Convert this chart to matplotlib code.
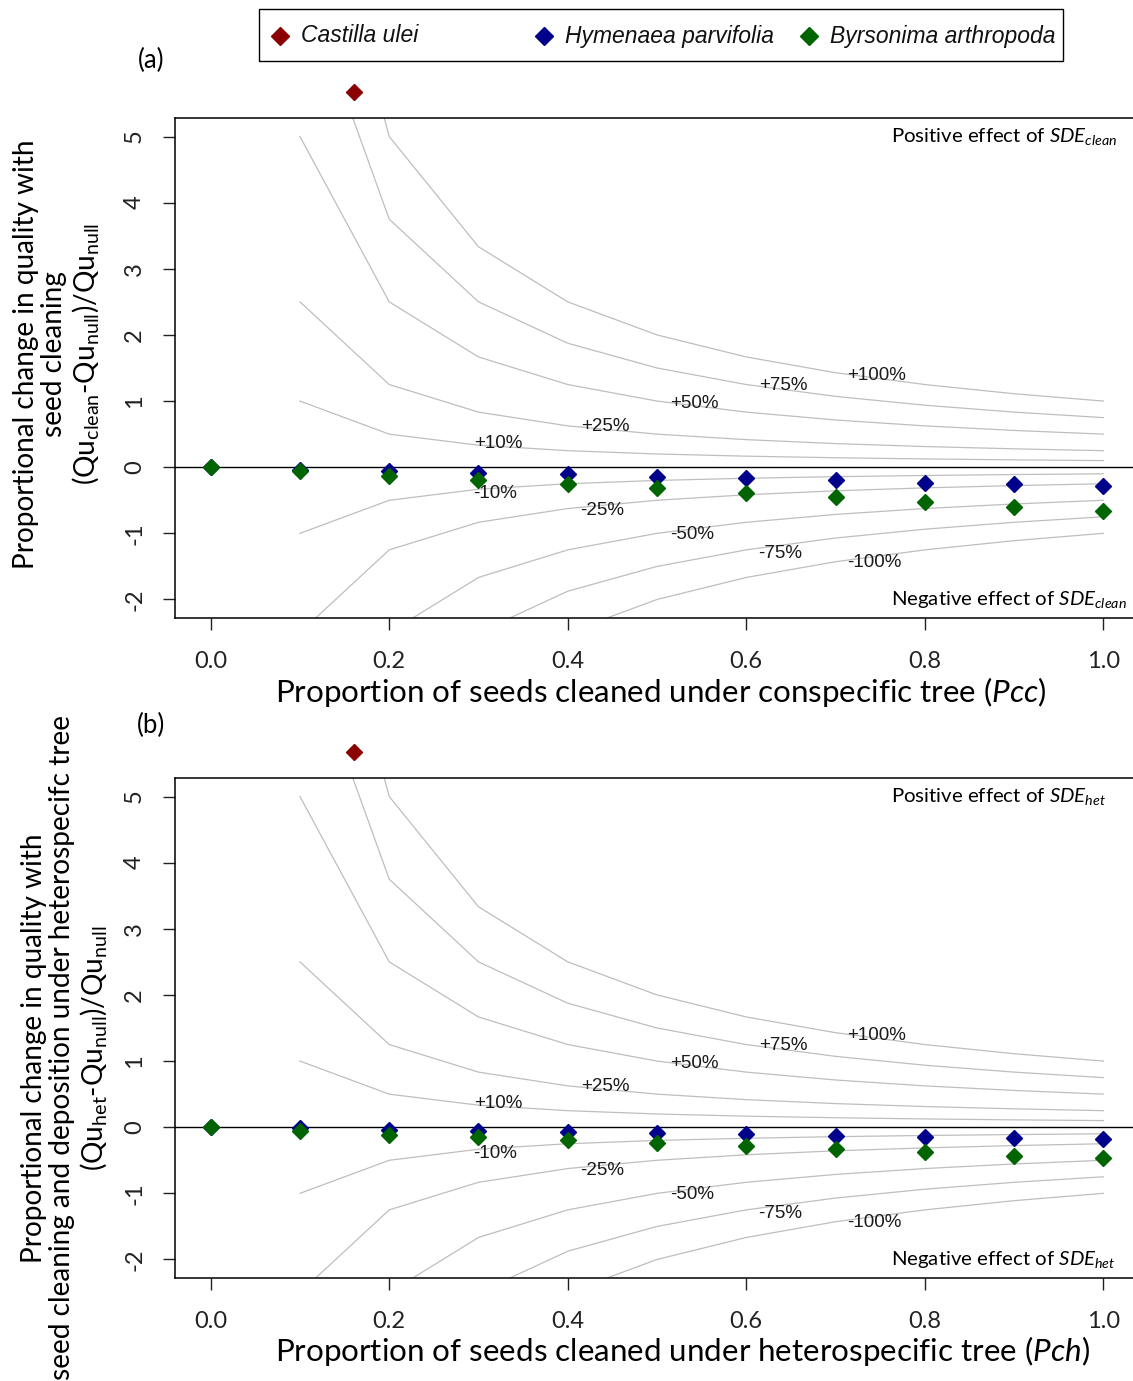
import matplotlib
matplotlib.use('Agg')
import matplotlib.pyplot as plt
from matplotlib.patches import Rectangle
from matplotlib.lines import Line2D

plt.rcParams['font.family'] = ['Lato', 'DejaVu Sans']
plt.rcParams['mathtext.fontset'] = 'custom'
plt.rcParams['mathtext.rm'] = 'Lato'
plt.rcParams['mathtext.it'] = 'Lato:italic'
plt.rcParams['mathtext.bf'] = 'Lato:bold'

# ---------------- data ----------------
prop = [0.0, 0.1, 0.2, 0.3, 0.4, 0.5, 0.6, 0.7, 0.8, 0.9, 1.0]
hym_a = [0.0, -0.035, -0.05, -0.09, -0.10, -0.15, -0.17, -0.19, -0.24, -0.26, -0.29]
byr_a = [0.0, -0.06, -0.14, -0.19, -0.26, -0.32, -0.39, -0.45, -0.53, -0.60, -0.66]
hym_b = [0.0, -0.015, -0.04, -0.06, -0.075, -0.085, -0.11, -0.135, -0.15, -0.16, -0.18]
byr_b = [0.0, -0.05, -0.12, -0.15, -0.20, -0.24, -0.29, -0.33, -0.38, -0.43, -0.46]
castilla_x = [0.16]
castilla_y = [5.68]

# reference iso-lines (proportional change), tabulated at x = 0.1 ... 1.0
iso_x = [0.1, 0.2, 0.3, 0.4, 0.5, 0.6, 0.7, 0.8, 0.9, 1.0]
iso_lines = {
    '+10%':  [1.0, 0.5, 0.333, 0.25, 0.2, 0.167, 0.143, 0.125, 0.111, 0.1],
    '+25%':  [2.5, 1.25, 0.833, 0.625, 0.5, 0.417, 0.357, 0.3125, 0.278, 0.25],
    '+50%':  [5.0, 2.5, 1.667, 1.25, 1.0, 0.833, 0.714, 0.625, 0.556, 0.5],
    '+75%':  [7.5, 3.75, 2.5, 1.875, 1.5, 1.25, 1.071, 0.9375, 0.833, 0.75],
    '+100%': [10.0, 5.0, 3.333, 2.5, 2.0, 1.667, 1.429, 1.25, 1.111, 1.0],
    '-10%':  [-1.0, -0.5, -0.333, -0.25, -0.2, -0.167, -0.143, -0.125, -0.111, -0.1],
    '-25%':  [-2.5, -1.25, -0.833, -0.625, -0.5, -0.417, -0.357, -0.3125, -0.278, -0.25],
    '-50%':  [-5.0, -2.5, -1.667, -1.25, -1.0, -0.833, -0.714, -0.625, -0.556, -0.5],
    '-75%':  [-7.5, -3.75, -2.5, -1.875, -1.5, -1.25, -1.071, -0.9375, -0.833, -0.75],
    '-100%': [-10.0, -5.0, -3.333, -2.5, -2.0, -1.667, -1.429, -1.25, -1.111, -1.0],
}
iso_label_x = {'+10%': 0.322, '+25%': 0.442, '+50%': 0.542, '+75%': 0.642, '+100%': 0.746,
               '-10%': 0.319, '-25%': 0.439, '-50%': 0.539, '-75%': 0.638, '-100%': 0.743}
iso_label_y = {'+10%': 0.36, '+25%': 0.62, '+50%': 0.97, '+75%': 1.24, '+100%': 1.38,
               '-10%': -0.39, '-25%': -0.65, '-50%': -1.02, '-75%': -1.30, '-100%': -1.44}

xticks = [0.0, 0.2, 0.4, 0.6, 0.8, 1.0]
xticklabels = ['0.0', '0.2', '0.4', '0.6', '0.8', '1.0']
yticks = [-2, -1, 0, 1, 2, 3, 4, 5]
yticklabels = ['-2', '-1', '0', '1', '2', '3', '4', '5']

species = ['Castilla ulei', 'Hymenaea parvifolia', 'Byrsonima arthropoda']
colors = ['#8B0000', '#00008B', '#006400']

# ---------------- figure ----------------
W, H = 1133, 1381
fig = plt.figure(figsize=(W / 100, H / 100), dpi=100)

def px_rect(left, top, right, bottom):
    return [left / W, 1 - bottom / H, (right - left) / W, (bottom - top) / H]

ax_a = fig.add_axes(px_rect(175, 118, 1139, 618))
ax_b = fig.add_axes(px_rect(175, 778, 1139, 1278))

panels = [
    (ax_a, hym_a, byr_a, 'clean', '(a)',
     'Proportion of seeds cleaned under conspecific tree ($\\mathit{Pcc}$)'),
    (ax_b, hym_b, byr_b, 'het', '(b)',
     'Proportion of seeds cleaned under heterospecific tree ($\\mathit{Pch}$)'),
]

for ax, hym, byr, sub, tag, xlab in panels:
    ax.set_xlim(-0.04, 1.04)
    ax.set_ylim(-2.28, 5.28)
    for name, vals in iso_lines.items():
        ax.plot(iso_x, vals, color='#BEBEBE', lw=0.9, zorder=1)
        ax.text(iso_label_x[name], iso_label_y[name], name, ha='center', va='center',
                fontsize=13.5, family=['Liberation Sans'], color='#1a1a1a', zorder=2)
    ax.axhline(0, color='black', lw=1.0, zorder=2)
    ax.plot(prop, hym, linestyle='none', marker='D', ms=8, color=colors[1], zorder=3)
    ax.plot(prop, byr, linestyle='none', marker='D', ms=8, color=colors[2], zorder=4)
    ax.plot(castilla_x, castilla_y, linestyle='none', marker='D', ms=8,
            color=colors[0], clip_on=False, zorder=5)

    ax.set_xticks(xticks)
    ax.set_xticklabels(xticklabels, fontsize=17)
    ax.set_yticks(yticks)
    ax.set_yticklabels(yticklabels, fontsize=17, rotation=90, va='center')
    ax.tick_params(axis='both', direction='out', length=8.5, width=1.0, pad=13,
                   colors='#222222')
    ax.tick_params(axis='x', pad=15)
    for sp in ax.spines.values():
        sp.set_linewidth(1.1)

    ax.text(0.7626, 5.0, 'Positive effect of $\\mathit{SDE}_{\\mathit{%s}}$' % sub,
            ha='left', va='center', fontsize=14.7)
    ax.text(0.7626, -2.0, 'Negative effect of $\\mathit{SDE}_{\\mathit{%s}}$' % sub,
            ha='left', va='center', fontsize=14.7)

# x labels
fig.text(275 / W, 1 - 692 / H, panels[0][5], ha='left', va='center', fontsize=22.6)
fig.text(275 / W, 1 - 1351 / H, panels[1][5], ha='left', va='center', fontsize=22.6)

# panel tags
fig.text(151 / W, 1 - 60 / H, '(a)', ha='center', va='center', fontsize=18.5)
fig.text(151 / W, 1 - 725 / H, '(b)', ha='center', va='center', fontsize=18.5)

# y labels
ylab_a = ('Proportional change in quality with\nseed cleaning\n'
          '(Qu$_{\\mathrm{clean}}$-Qu$_{\\mathrm{null}}$)/Qu$_{\\mathrm{null}}$')
ylab_b = ('Proportional change in quality with\nseed cleaning and deposition under heterospecifc tree\n'
          '(Qu$_{\\mathrm{het}}$-Qu$_{\\mathrm{null}}$)/Qu$_{\\mathrm{null}}$')
fig.text(57 / W, 1 - 354 / H, ylab_a, rotation=90, ha='center', va='center',
         fontsize=20.2, multialignment='center', linespacing=1.1)
fig.text(65 / W, 1 - 1048 / H, ylab_b, rotation=90, ha='center', va='center',
         fontsize=20.2, multialignment='center', linespacing=1.1)

# legend (figure-level box)
fig.patches.append(Rectangle((259 / W, 1 - 61 / H), (1063 - 259) / W, 52 / H,
                             transform=fig.transFigure, fill=False, lw=1.0,
                             edgecolor='black'))
leg_marker_x = [280, 544, 809]
for mx, name, col in zip(leg_marker_x, species, colors):
    fig.add_artist(Line2D([mx / W], [1 - 36 / H], transform=fig.transFigure,
                          marker='D', ms=9, color=col, linestyle='none'))
    fig.text((mx + 21) / W, 1 - 36 / H, name, ha='left', va='center', fontsize=16.5,
             style='italic', family=['Liberation Sans'], color='#111111')

fig.savefig('out.png', dpi=100)
